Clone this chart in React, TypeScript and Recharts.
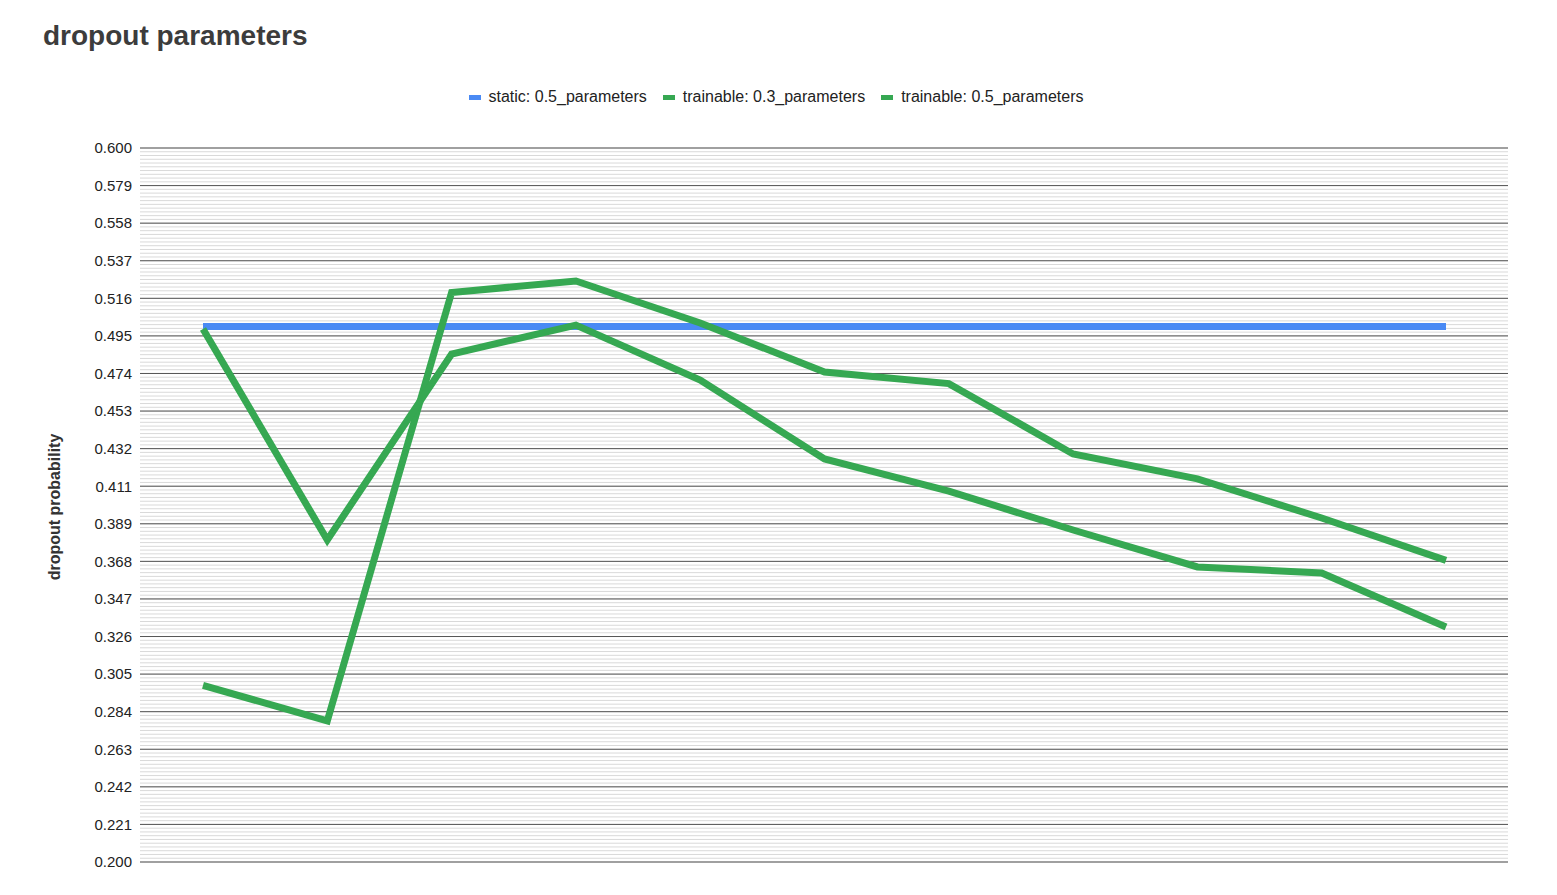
import { CartesianGrid, Line, LineChart, XAxis, YAxis } from 'recharts';

const steps = ['1', '2', '3', '4', '5', '6', '7', '8', '9', '10', '11'];
const staticHalf = [0.5, 0.5, 0.5, 0.5, 0.5, 0.5, 0.5, 0.5, 0.5, 0.5, 0.5];
const trainable03 = [0.299, 0.279, 0.519, 0.5255, 0.502, 0.4745, 0.468, 0.4286, 0.4146, 0.3927, 0.369];
const trainable05 = [0.4986, 0.3804, 0.4846, 0.5008, 0.47, 0.4258, 0.4078, 0.386, 0.3653, 0.3619, 0.3317];
const yTicks = Array.from({ length: 20 }, (_, i) => 0.2 + (0.4 * i) / 19);
const minorTicks = Array.from({ length: 191 }, (_, i) => 0.2 + (0.4 * i) / 190);

const legendItems = [
  { name: 'static: 0.5_parameters', color: '#4a8af4' },
  { name: 'trainable: 0.3_parameters', color: '#36a852' },
  { name: 'trainable: 0.5_parameters', color: '#36a852' },
];

const data = steps.map((s, i) => ({
  step: s,
  s05: staticHalf[i],
  t03: trainable03[i],
  t05: trainable05[i],
}));

export default function App() {
  return (
    <div style={{ position: 'absolute', left: 0, top: 0, width: 1557, height: 895, background: '#fff', fontFamily: 'Arial, "Liberation Sans", sans-serif' }}>
      <div style={{ position: 'absolute', left: 43, top: 20, fontSize: 28, fontWeight: 'bold', color: '#3c3c3c' }}>dropout parameters</div>
      <div style={{ position: 'absolute', left: 0, right: 0, top: 88, display: 'flex', justifyContent: 'center', gap: 16, fontSize: 16, color: '#222', marginLeft: -5 }}>
        {legendItems.map((it) => (
          <div key={it.name} style={{ display: 'flex', alignItems: 'center', gap: 8 }}>
            <span style={{ width: 12, height: 5, background: it.color, display: 'inline-block' }} />
            <span>{it.name}</span>
          </div>
        ))}
      </div>
      <div style={{ position: 'absolute', left: 55, top: 507, transform: 'translate(-50%,-50%) rotate(-90deg)', fontSize: 16, fontWeight: 'bold', color: '#333', whiteSpace: 'nowrap' }}>dropout probability</div>
      <LineChart width={1557} height={895} data={data} margin={{ top: 148, right: 49, left: 60, bottom: 33 }} style={{ position: 'absolute', left: 0, top: 0 }}>
        <CartesianGrid horizontalValues={minorTicks} vertical={false} stroke="#d9d9d9" strokeWidth={1} />
        <CartesianGrid horizontalValues={yTicks} vertical={false} stroke="#555" strokeWidth={1} />
        <XAxis dataKey="step" hide padding={{ left: 63, right: 62 }} />
        <YAxis domain={[0.2, 0.6]} ticks={yTicks} interval={0} tickFormatter={(v) => v.toFixed(3)} axisLine={false} tickLine={false} width={80} tick={{ fontSize: 15, fill: '#222' }} />
        <Line dataKey="s05" stroke="#4a8af4" strokeWidth={7} dot={false} isAnimationActive={false} />
        <Line dataKey="t03" stroke="#36a852" strokeWidth={7} dot={false} isAnimationActive={false} />
        <Line dataKey="t05" stroke="#36a852" strokeWidth={7} dot={false} isAnimationActive={false} />
      </LineChart>
    </div>
  );
}
